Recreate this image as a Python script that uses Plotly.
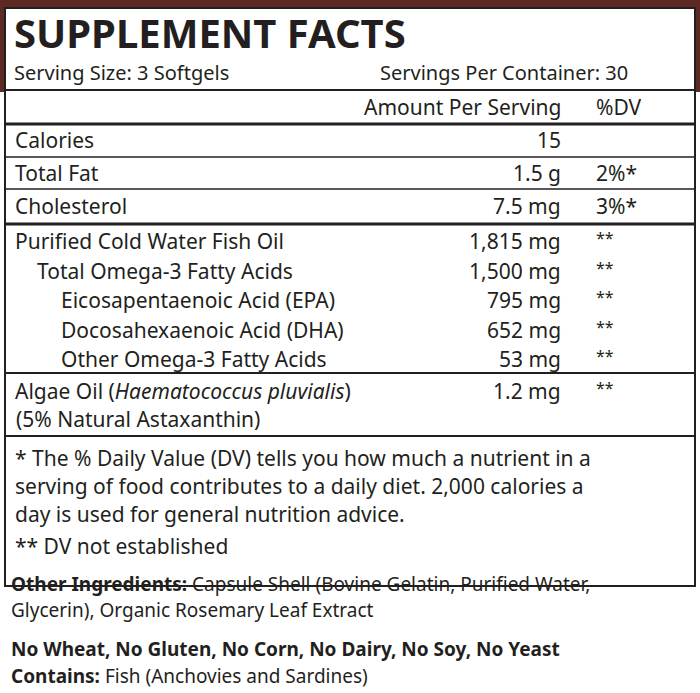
import plotly.graph_objects as go

title = "SUPPLEMENT FACTS"
serving_size = "Serving Size: 3 Softgels"
servings_per = "Servings Per Container: 30"
nutrients = ["Calories", "Total Fat", "Cholesterol",
             "Purified Cold Water Fish Oil", "Total Omega-3 Fatty Acids",
             "Eicosapentaenoic Acid (EPA)", "Docosahexaenoic Acid (DHA)",
             "Other Omega-3 Fatty Acids",
             "Algae Oil (<i>Haematococcus pluvialis</i>)"]
amounts = ["15", "1.5 g", "7.5 mg", "1,815 mg", "1,500 mg", "795 mg", "652 mg", "53 mg", "1.2 mg"]
dvs = ["", "2%*", "3%*", "**", "**", "**", "**", "**", "**"]
indent = [0, 0, 0, 0, 1, 2, 2, 2, 0]
row_y = [140, 173, 206, 241, 271, 300, 330, 359, 391]
footnotes = ["* The % Daily Value (DV) tells you how much a nutrient in a",
             "serving of food contributes to a daily diet. 2,000 calories a",
             "day is used for general nutrition advice."]

FONT = "Noto Sans"
C = "#231f20"
fig = go.Figure()
shapes = []
shapes.append(dict(type="rect", x0=0, x1=700, y0=0, y1=92, fillcolor="#5c2a22", line_width=0, layer="below"))
shapes.append(dict(type="rect", x0=5, x1=695, y0=8, y1=600, fillcolor="white", line_width=0, layer="below"))
shapes.append(dict(type="rect", x0=5, x1=695, y0=8, y1=586, line=dict(color=C, width=2)))
for y, w in [(90, 2), (124, 3), (157, 1.5), (189, 1.5), (224, 3), (373, 2), (436, 2)]:
    shapes.append(dict(type="line", x0=5, x1=695, y0=y, y1=y, line=dict(color=C, width=w)))

ann = []
def t(x, y, s, size=21, anchor="left", bold=False):
    ann.append(dict(x=x, y=y, text=(f"<b>{s}</b>" if bold else s), showarrow=False, xanchor=anchor,
                    yanchor="middle", font=dict(family=FONT, size=size, color=C)))

t(12, 32, title, 40, bold=True)
t(12, 72, serving_size, 20)
t(378, 72, servings_per, 20)
t(563, 107, "Amount Per Serving", 21, "right")
t(594, 107, "%DV", 21)
for n, a, d, i, y in zip(nutrients, amounts, dvs, indent, row_y):
    t(13 + i * 22 + (i > 1) * 2, y, n, 21)
    t(563, y, a, 21, "right")
    t(594, y - (3 if d == "**" else 0), d, 21 if d != "**" else 16)
t(14, 419, "(5% Natural Astaxanthin)", 21)
for k, f in enumerate(footnotes):
    t(13, 458 + k * 28, f, 21)
t(13, 546, "** DV not established", 21)
t(9, 584, "<b>Other Ingredients:</b> Capsule Shell (Bovine Gelatin, Purified Water,", 19)
t(9, 610, "Glycerin), Organic Rosemary Leaf Extract", 19)
t(9, 649, "No Wheat, No Gluten, No Corn, No Dairy, No Soy, No Yeast", 19, bold=True)
t(9, 676, "<b>Contains:</b> Fish (Anchovies and Sardines)", 19)

fig.update_layout(width=700, height=693, margin=dict(l=0, r=0, t=0, b=0),
                  paper_bgcolor="white", plot_bgcolor="white", shapes=shapes, annotations=ann,
                  xaxis=dict(range=[0, 700], visible=False, fixedrange=True),
                  yaxis=dict(range=[693, 0], visible=False, fixedrange=True), showlegend=False)
fig.write_html("out.html", config={"displayModeBar": False},
               post_script="document.body.style.margin='0';document.body.style.overflow='hidden';")
